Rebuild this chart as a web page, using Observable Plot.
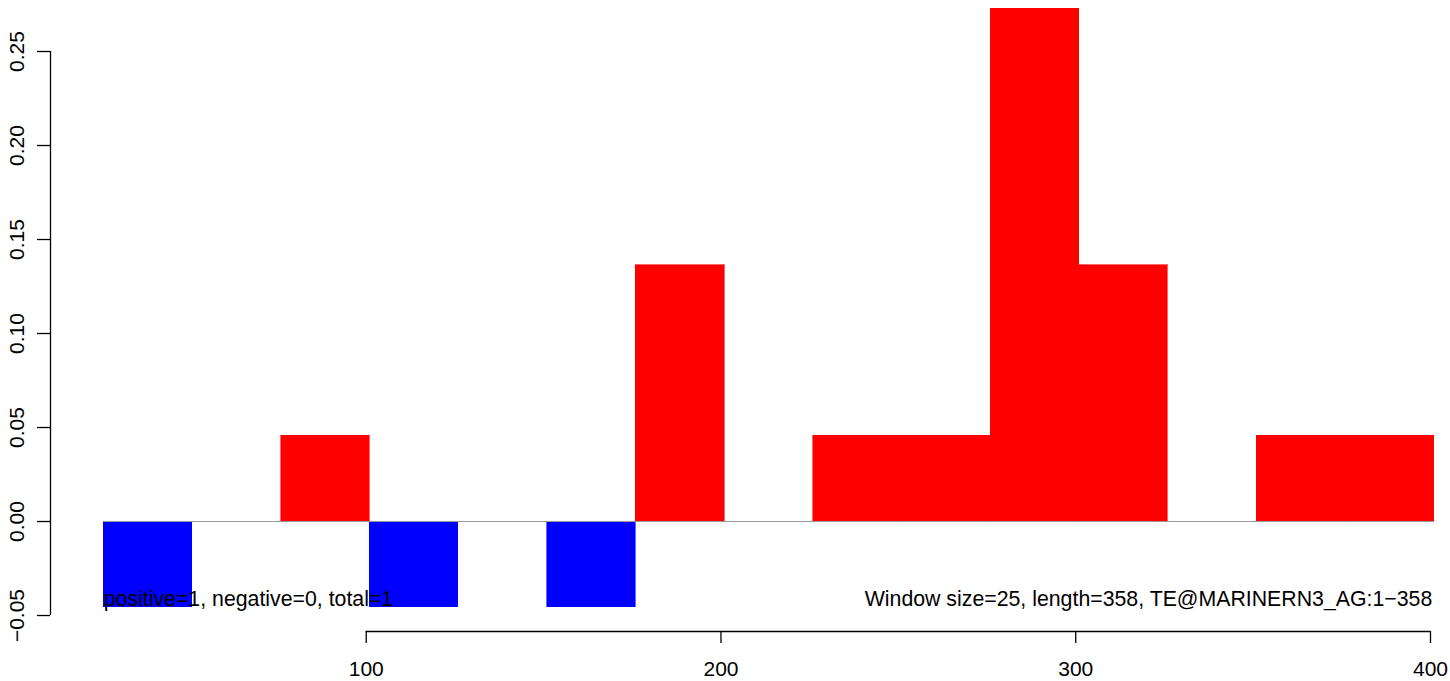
<!DOCTYPE html>
<html>
<head>
<meta charset="utf-8">
<script src="https://cdn.jsdelivr.net/npm/d3@7"></script>
<script src="https://cdn.jsdelivr.net/npm/@observablehq/plot@0.6"></script>
<style>
  html, body { margin: 0; padding: 0; background: #fff; }
  svg { font-family: "Liberation Sans", Arial, sans-serif; }
</style>
</head>
<body>
<div id="chart"></div>
<script>
const windowStart = [26, 51, 76, 101, 126, 151, 176, 201, 226, 251, 276, 301, 326, 351, 376];
const windowEnd   = [51, 76, 101, 126, 151, 176, 201, 226, 251, 276, 301, 326, 351, 376, 401];
const scores      = [-0.0455, 0, 0.0455, -0.0455, 0, -0.0455, 0.1364, 0, 0.0455, 0.0455, 0.2727, 0.1364, 0, 0.0455, 0.0455];
const xTicks = [100, 200, 300, 400];
const yTicks = [-0.05, 0, 0.05, 0.10, 0.15, 0.20, 0.25];
const leftLabel = "positive=1, negative=0, total=1";
const rightLabel = "Window size=25, length=358, TE@MARINERN3_AG:1\u2212358";

const bars = windowStart.map((s, i) => ({x1: s, x2: windowEnd[i], y: scores[i]}))
  .filter(d => d.y !== 0);

const FS = 21;
const colorOf = d => d.y > 0 ? "#ff0000" : "#0000ff";
const chart = Plot.plot({
  width: 1450,
  height: 681,
  marginLeft: 50,
  marginRight: 0,
  marginTop: 0,
  marginBottom: 50,
  style: {fontSize: FS + "px", fontFamily: "Liberation Sans, Arial, sans-serif", background: "#fff", color: "#000"},
  x: {domain: [11, 405.64], axis: null, label: null},
  y: {domain: [-0.0585, 0.27713], axis: null, label: null},
  marks: [
    Plot.rectY(bars, {x1: "x1", x2: "x2", y: "y", fill: colorOf, stroke: colorOf, strokeWidth: 0.6, shapeRendering: "crispEdges"}),
    Plot.ruleY([0], {x1: windowStart[0], x2: windowEnd[windowEnd.length - 1], stroke: "#999999", strokeWidth: 1}),
    Plot.axisX(xTicks, {anchor: "bottom", label: null, tickSize: 12, tickPadding: 18, tickFormat: d => String(d), stroke: "#000", strokeWidth: 1.3, fontSize: FS}),
    Plot.ruleY([-0.0585], {x1: xTicks[0], x2: xTicks[xTicks.length - 1], stroke: "#000", strokeWidth: 1.3}),
    Plot.axisY(yTicks, {anchor: "left", label: null, tickSize: 13, tickPadding: 14, tickRotate: -90, tickFormat: d3.format(".2f"), stroke: "#000", strokeWidth: 1.3, fontSize: FS}),
    Plot.ruleX([11], {y1: yTicks[0], y2: yTicks[yTicks.length - 1], stroke: "#000", strokeWidth: 1.3}),
    Plot.text([leftLabel], {x: windowStart[0], y: -0.0415, text: d => d, textAnchor: "start", fontSize: 21.3, fill: "#000"}),
    Plot.text([rightLabel], {x: 400.5, y: -0.0415, text: d => d, textAnchor: "end", fontSize: 21.3, fill: "#000"})
  ]
});
document.getElementById("chart").appendChild(chart);
</script>
</body>
</html>
